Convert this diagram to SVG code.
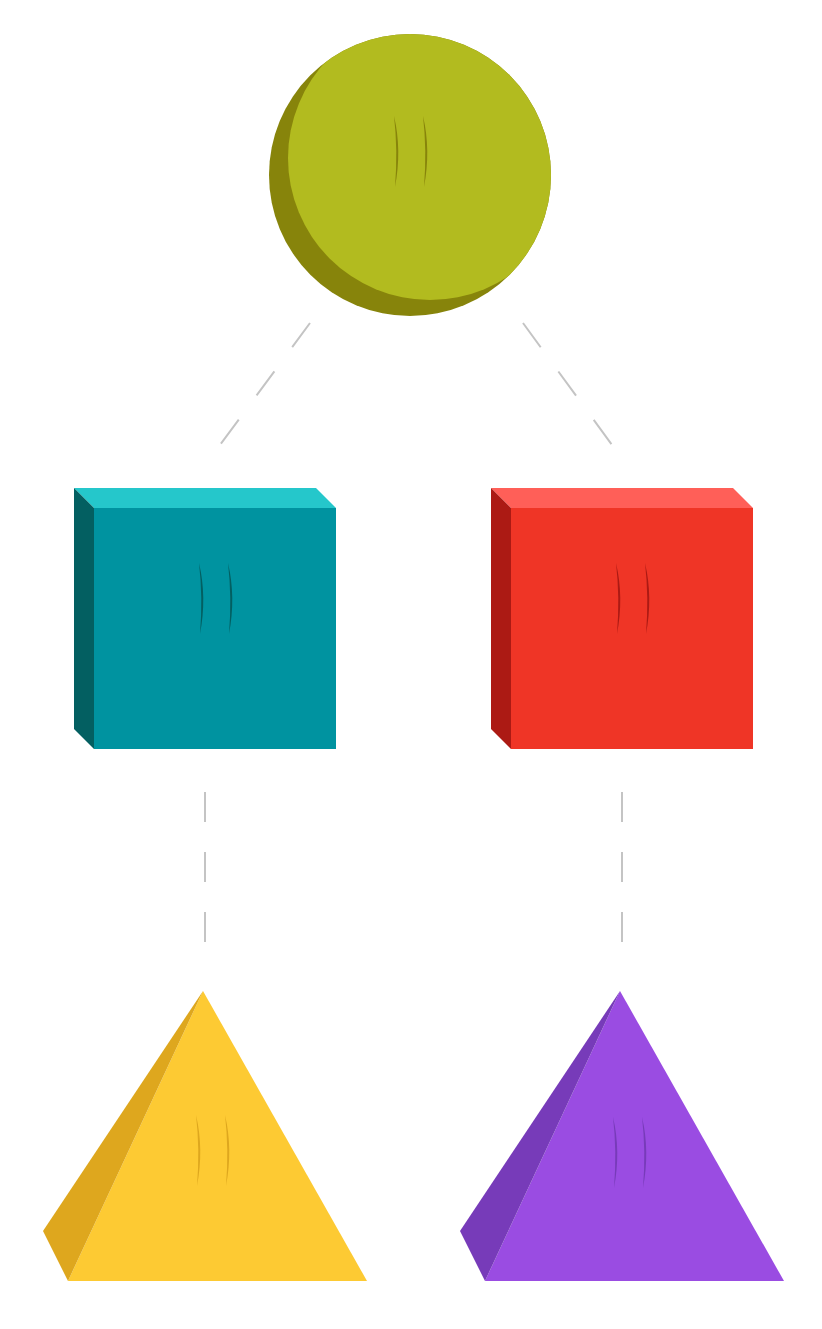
<svg xmlns="http://www.w3.org/2000/svg" width="822" height="1329" viewBox="0 0 822 1329">
<style>.c{stroke:#c4c4c4;stroke-width:2;stroke-dasharray:30 30;fill:none}</style>
<defs>
<clipPath id="cc"><circle cx="410" cy="175" r="141"/></clipPath>
<path id="eye" d="M0,0 Q8,34 1,71 Q4,34 0,0Z"/>
</defs>
<rect width="822" height="1329" fill="#fff"/>
<g id="connectors">
<line class="c" x1="310" y1="323" x2="220" y2="445"/>
<line class="c" x1="523" y1="323" x2="612" y2="445"/>
<line class="c" x1="205" y1="792" x2="205" y2="942"/>
<line class="c" x1="622" y1="792" x2="622" y2="942"/>
</g>
<g id="circle">
<circle cx="410" cy="175" r="141" fill="#87840b"/>
<circle cx="430" cy="158" r="142" fill="#b2bb1f" clip-path="url(#cc)"/>
<use href="#eye" x="394" y="116" fill="#87840b"/><use href="#eye" x="423" y="116" fill="#87840b"/>
</g>
<g id="teal">
<polygon points="74,488 316,488 336,508 94,508" fill="#25c7cb"/>
<polygon points="74,488 94,508 94,749 74,729" fill="#035f61"/>
<rect x="94" y="508" width="242" height="241" fill="#0093a0"/>
<use href="#eye" x="199" y="563" fill="#035f61"/><use href="#eye" x="228" y="563" fill="#035f61"/>
</g>
<g id="red">
<polygon points="491,488 733,488 753,508 511,508" fill="#ff5f58"/>
<polygon points="491,488 511,508 511,749 491,729" fill="#ac1a14"/>
<rect x="511" y="508" width="242" height="241" fill="#ef3526"/>
<use href="#eye" x="616" y="563" fill="#ac1a14"/><use href="#eye" x="645" y="563" fill="#ac1a14"/>
</g>
<g id="yellow">
<polygon points="203,991 68,1281 367,1281" fill="#fdca33"/>
<polygon points="203,991 43,1231 68,1281" fill="#dea71e"/>
<use href="#eye" x="196" y="1115" fill="#dea71e"/><use href="#eye" x="225" y="1115" fill="#dea71e"/>
</g>
<g id="purple">
<polygon points="620,991 485,1281 784,1281" fill="#9a4ce2"/>
<polygon points="620,991 460,1231 485,1281" fill="#773bb9"/>
<use href="#eye" x="613" y="1117" fill="#773bb9"/><use href="#eye" x="642" y="1117" fill="#773bb9"/>
</g>
</svg>
